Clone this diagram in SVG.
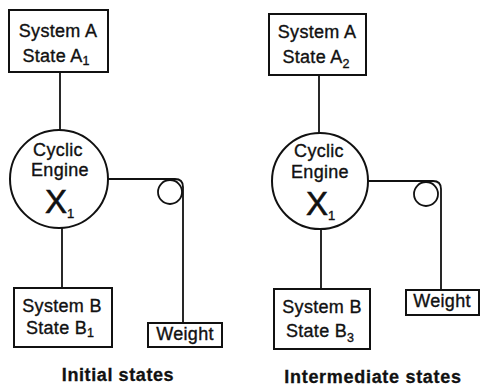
<svg xmlns="http://www.w3.org/2000/svg" width="481" height="390" viewBox="0 0 481 390">
  <style>
    .box { fill: #fff; stroke: #111; stroke-width: 2; }
    .wire { fill: none; stroke: #111; stroke-width: 1.8; }
    .t { font-family: "Liberation Sans", Arial, sans-serif; font-size: 18px; letter-spacing: 0.3px; fill: #111; stroke: #111; stroke-width: 0.35; text-anchor: middle; }
    .big { font-family: "Liberation Sans", Arial, sans-serif; font-size: 33px; fill: #111; stroke: #111; stroke-width: 0.6; }
    .sub { font-size: 12.5px; letter-spacing: 0; }
    .xsub { font-size: 13px; stroke-width: 0.35; }
    .cap { font-family: "Liberation Sans", Arial, sans-serif; font-size: 18px; font-weight: bold; fill: #111; stroke: #111; stroke-width: 0.3; text-anchor: middle; }
  </style>
  <rect width="481" height="390" fill="#fff"/>

  <!-- connectors: shafts, rope and pulleys -->
  <g id="connectors">
    <!-- initial states -->
    <line class="wire" x1="60" y1="72" x2="60" y2="130"/>
    <line class="wire" x1="62" y1="227" x2="62" y2="288"/>
    <path class="wire" d="M108,179 H175 Q183,179 183,187 V323"/>
    <circle class="wire" cx="170" cy="192" r="12"/>
    <!-- intermediate states -->
    <line class="wire" x1="319" y1="75" x2="319" y2="133"/>
    <line class="wire" x1="321" y1="229" x2="321" y2="289"/>
    <path class="wire" d="M368,181 H433 Q441,181 441,189 V290"/>
    <circle class="wire" cx="426" cy="194" r="12"/>
  </g>

  <!-- initial states -->
  <g id="sysA1">
    <rect class="box" x="9" y="10" width="99" height="62"/>
    <text class="t" x="58" y="37">System A</text>
    <text class="t" x="56" y="62">State A<tspan class="sub" dy="3">1</tspan></text>
  </g>
  <g id="engine1">
    <circle class="box" cx="59" cy="179" r="49"/>
    <text class="t" x="58" y="156">Cyclic</text>
    <text class="t" x="60" y="176">Engine</text>
    <text class="big" x="45" y="213">X<tspan class="xsub" dy="5">1</tspan></text>
  </g>
  <g id="sysB1">
    <rect class="box" x="14" y="288" width="98" height="59"/>
    <text class="t" x="62" y="312">System B</text>
    <text class="t" x="60" y="334">State B<tspan class="sub" dy="3">1</tspan></text>
  </g>
  <g id="weight1">
    <rect class="box" x="148" y="323" width="74" height="24"/>
    <text class="t" x="185" y="340">Weight</text>
  </g>
  <text class="cap" x="118" y="381" letter-spacing="0.6">Initial states</text>

  <!-- intermediate states -->
  <g id="sysA2">
    <rect class="box" x="269" y="14" width="97" height="61"/>
    <text class="t" x="317" y="38">System A</text>
    <text class="t" x="316" y="63">State A<tspan class="sub" dy="5">2</tspan></text>
  </g>
  <g id="engine2">
    <circle class="box" cx="320" cy="181" r="48"/>
    <text class="t" x="319" y="157">Cyclic</text>
    <text class="t" x="320" y="178">Engine</text>
    <text class="big" x="306" y="215">X<tspan class="xsub" dy="5">1</tspan></text>
  </g>
  <g id="sysB2">
    <rect class="box" x="274" y="289" width="96" height="60"/>
    <text class="t" x="322" y="313">System B</text>
    <text class="t" x="320" y="337">State B<tspan class="sub" dy="5">3</tspan></text>
  </g>
  <g id="weight2">
    <rect class="box" x="406" y="290" width="73" height="25"/>
    <text class="t" x="442" y="307">Weight</text>
  </g>
  <text class="cap" x="373" y="383" letter-spacing="0.7">Intermediate states</text>
</svg>
